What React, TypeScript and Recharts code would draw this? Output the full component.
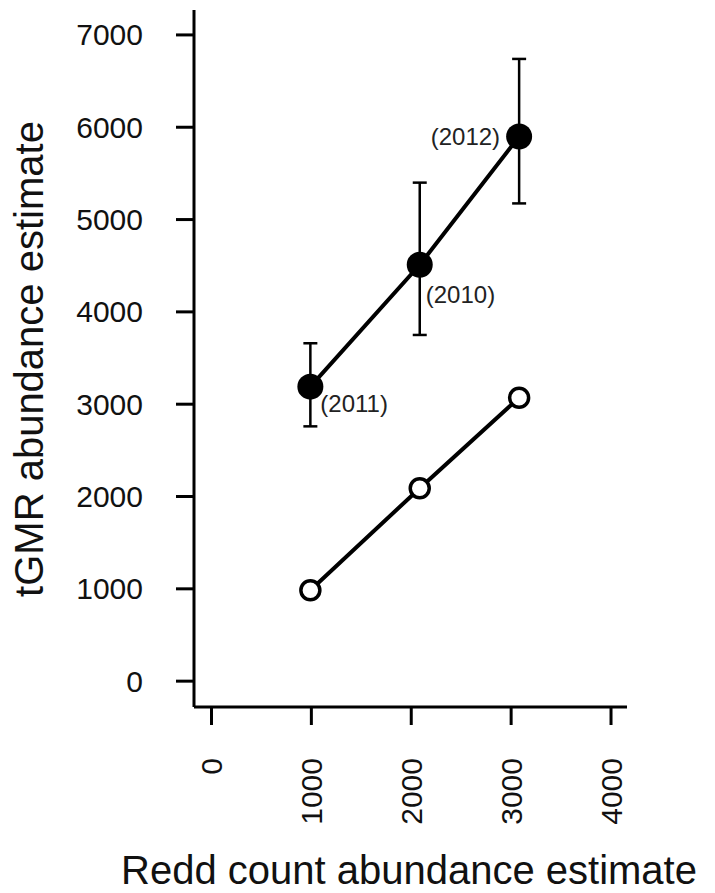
import React from 'react';
import { ScatterChart, Scatter, XAxis, YAxis, ErrorBar, Label } from 'recharts';

const years = ['2011', '2010', '2012'];
const reddCount = [990, 2085, 3080];
const tgmr = [3190, 4510, 5900];
const tgmrLower = [2760, 3750, 5175];
const tgmrUpper = [3660, 5400, 6740];
const reddOnly = [985, 2090, 3070];

const xTicks = [0, 1000, 2000, 3000, 4000];
const yTicks = [0, 1000, 2000, 3000, 4000, 5000, 6000, 7000];

const FONT = '"Liberation Sans", Arial, sans-serif';

const filledData = years.map((year, i) => ({
  year,
  x: reddCount[i],
  y: tgmr[i],
  err: [tgmr[i] - tgmrLower[i], tgmrUpper[i] - tgmr[i]],
}));

const openData = reddCount.map((x, i) => ({ x, y: reddOnly[i] }));

const FilledDot = (props: any) => {
  const { cx, cy, payload } = props;
  const leftSide = payload.year === '2012';
  const below = payload.year === '2010' ? 30 : 17;
  return (
    <g>
      <circle cx={cx} cy={cy} r={13} fill="#000" />
      {leftSide ? (
        <text x={cx - 19} y={cy} textAnchor="end" dominantBaseline="central"
          fontSize={24} fontFamily={FONT} fill="#222">({payload.year})</text>
      ) : (
        <text x={cx + (payload.year === '2010' ? 6 : 10)} y={cy + below} textAnchor="start"
          dominantBaseline="central" fontSize={24} fontFamily={FONT} fill="#222">({payload.year})</text>
      )}
    </g>
  );
};

const OpenDot = (props: any) => (
  <circle cx={props.cx} cy={props.cy} r={9.5} fill="#fff" stroke="#000" strokeWidth={3.5} />
);

const YTick = (props: any) => (
  <text x={props.x} y={props.y} textAnchor="end" dominantBaseline="central"
    fontSize={30} fontFamily={FONT} fill="#111">{props.payload.value}</text>
);

const XTick = (props: any) => (
  <text x={props.x} y={props.y} textAnchor="end" dominantBaseline="central"
    transform={`rotate(-90, ${props.x}, ${props.y})`}
    fontSize={30} fontFamily={FONT} fill="#111">{props.payload.value}</text>
);

export default function App() {
  return (
    <div style={{ position: 'absolute', left: 0, top: 0, background: '#fff' }}>
      <ScatterChart width={715} height={893} margin={{ top: 10, right: 88, left: 74, bottom: 66 }}>
        <XAxis type="number" dataKey="x" domain={[-175, 4160]} allowDataOverflow ticks={xTicks}
          height={120} tickSize={18} tickMargin={33} tick={<XTick />}
          axisLine={{ stroke: '#000', strokeWidth: 3 }} tickLine={{ stroke: '#000', strokeWidth: 3 }}>
          <Label content={() => (
            <text x={409} y={884} textAnchor="middle" fontSize={40} fontFamily={FONT} fill="#111">
              Redd count abundance estimate
            </text>
          )} />
        </XAxis>
        <YAxis type="number" dataKey="y" domain={[-280, 7270]} allowDataOverflow ticks={yTicks}
          width={120} tickSize={18} tickMargin={33} tick={<YTick />}
          axisLine={{ stroke: '#000', strokeWidth: 3 }} tickLine={{ stroke: '#000', strokeWidth: 3 }}>
          <Label content={() => (
            <text x={43} y={359} textAnchor="middle" transform="rotate(-90, 43, 359)"
              fontSize={40} fontFamily={FONT} fill="#111">
              tGMR abundance estimate
            </text>
          )} />
        </YAxis>
        <Scatter data={openData} line={{ stroke: '#000', strokeWidth: 4 }} shape={<OpenDot />}
          isAnimationActive={false} />
        <Scatter data={filledData} line={{ stroke: '#000', strokeWidth: 4 }} shape={<FilledDot />}
          isAnimationActive={false}>
          <ErrorBar dataKey="err" direction="y" width={7} stroke="#000" strokeWidth={2.5} />
        </Scatter>
      </ScatterChart>
    </div>
  );
}
